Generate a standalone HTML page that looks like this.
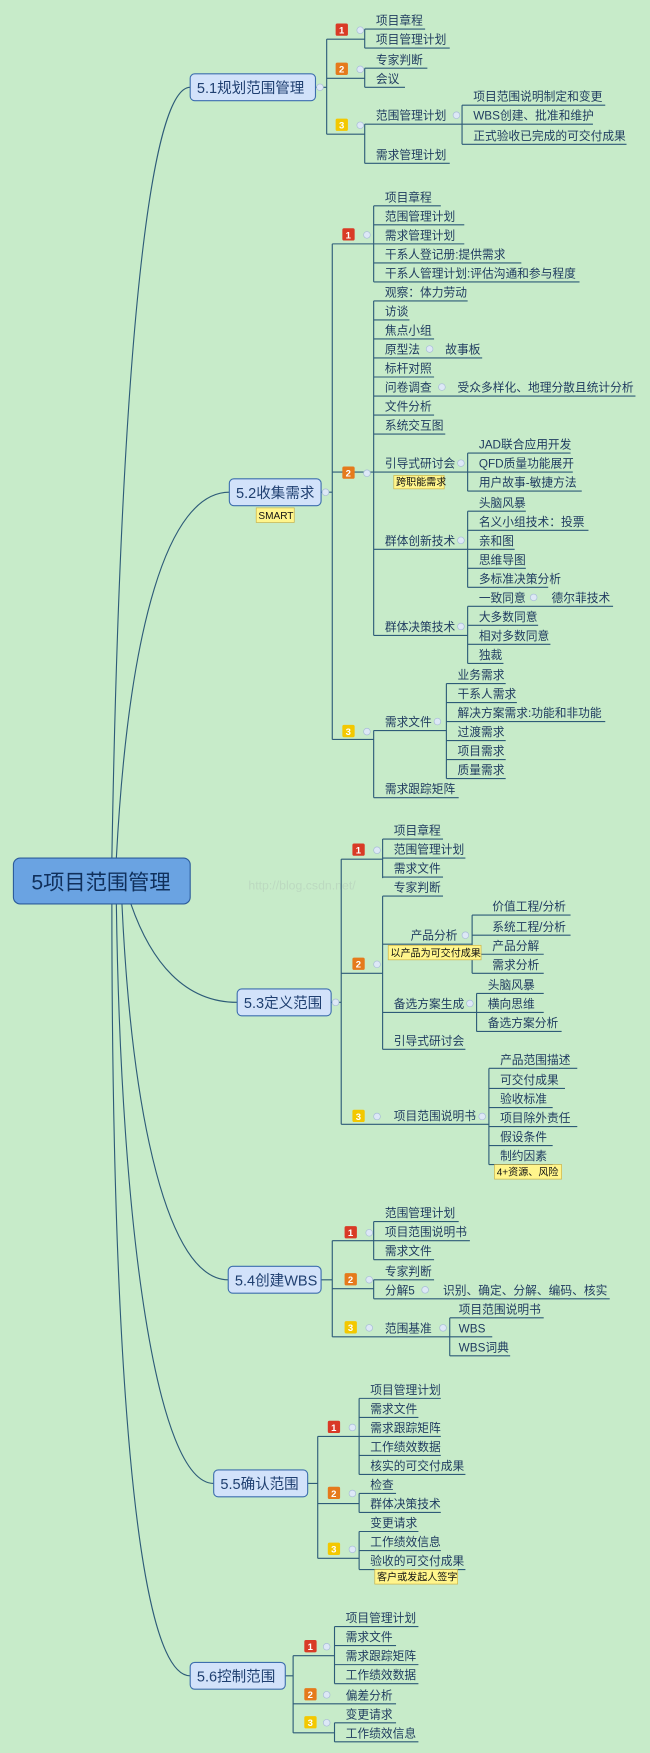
<!DOCTYPE html>
<html><head><meta charset="utf-8"><style>
html,body{margin:0;padding:0;background:#c7ebc9;}
svg{display:block}
text{font-family:"Liberation Sans","Noto Sans CJK SC",sans-serif;}
.t{font-size:10.5px;fill:#1e3a5f}
.l{fill:none;stroke:#2d5b78;stroke-width:1}
.b{font-size:8.5px;fill:#fff;font-weight:bold}
.y{fill:#fff58c;stroke:#c9b046;stroke-width:0.6}
.yt{font-size:9px;fill:#111}
.bx{fill:#d2e2fa;stroke:#3d6eae;stroke-width:1}
.bt{font-size:13px;fill:#1f3f70}
.c{fill:#dde8f6;stroke:#a8bcd8;stroke-width:0.6}
</style></head><body>
<svg width="650" height="1753" viewBox="0 0 581 1567" preserveAspectRatio="none" xmlns="http://www.w3.org/2000/svg">
<rect width="581" height="1567" fill="#c7ebc9"/>
<text x="222" y="795" font-size="11" fill="#bcd9c0" font-family="Liberation Mono,monospace">http://blog.csdn.net/</text>
<path class="l" d="M100 767 C108 300,135 78,170 78 M104 767 C115 560,150 440,205 440 M117 808 C135 860,165 896,212 896 M109 808 C118 1000,150 1144,204 1144 M104 808 C108 1100,140 1326,191 1326 M100 808 C100 1200,120 1498,170 1498"/>
<rect x="12" y="767" width="158" height="41" rx="6" fill="#6aa3e2" stroke="#2c5c9c"/>
<text x="28" y="795" font-size="19" fill="#10305c">5项目范围管理</text>

<path class="l" d="
M282 78H292 M292 35V120 M292 35H326 M326 26V43 M326 26H380 M326 43H402
M292 70H326 M326 61V78 M326 61H382 M326 78H362
M292 120H326 M326 111V146 M326 111H413 M326 146H402
M413 94V129 M413 94H541 M413 111H530 M413 129H560

M287 440H297 M297 218V661 M297 218H334 M334 184V252
M334 184H394 M334 201H415 M334 218H415 M334 235H466 M334 252H518
M297 422H418 M334 269V568
M334 269H418 M334 286H366 M334 303H388 M334 320H431 M334 337H388 M334 354H568 M334 371H388 M334 388H398
M418 405V439 M418 405H510 M418 422H512 M418 439H520
M334 491H418 M418 457V525 M418 457H470 M418 474H526 M418 491H460 M418 508H470 M418 525H490
M334 568H418 M418 542V593 M418 542H548 M418 559H481 M418 576H492 M418 593H450
M297 661H334 M334 653V713 M334 653H399 M334 713H410
M399 611V696 M399 611H452 M399 628H462 M399 645H541 M399 662H452 M399 679H452 M399 696H452

M296 896H305 M305 768V1005 M305 768H342 M342 750V785 M342 750H396 M342 767H416 M342 784H396
M305 870H342 M342 801V938 M342 801H396 M342 844H422 M342 905H426 M342 938H416
M422 818V870 M422 818H510 M422 836H510 M422 853H486 M422 870H486
M426 888V922 M426 888H486 M426 905H486 M426 922H502
M305 1005H437 M437 955V1041 M437 955H516 M437 973H505 M437 990H494 M437 1007H516 M437 1024H494 M437 1041H494

M287 1144H297 M297 1109V1195 M297 1109H334 M334 1092V1126 M334 1092H410 M334 1109H420 M334 1126H388
M297 1152H334 M334 1144V1161 M334 1144H388 M334 1161H545
M297 1195H402 M402 1178V1212 M402 1178H486 M402 1195H440 M402 1212H456

M275 1326H284 M284 1284V1393 M284 1284H321 M321 1250V1318 M321 1250H394 M321 1267H374 M321 1284H394 M321 1301H394 M321 1318H416
M284 1344H321 M321 1335V1352 M321 1335H354 M321 1352H394
M284 1393H321 M321 1369V1403 M321 1369H374 M321 1386H394 M321 1403H416

M255 1498H262 M262 1480V1549 M262 1480H299 M299 1454V1505 M299 1454H374 M299 1471H354 M299 1488H374 M299 1505H374
M262 1523H354
M262 1549H299 M299 1540V1557 M299 1540H354 M299 1557H374
"/>

<rect class="bx" x="170" y="66" width="112" height="24" rx="4"/><text class="bt" x="176" y="83">5.1规划范围管理</text>
<rect class="bx" x="205" y="428" width="82" height="24" rx="4"/><text class="bt" x="211" y="445">5.2收集需求</text>
<rect class="y" x="229" y="454" width="34" height="13"/><text class="yt" x="231" y="464">SMART</text>
<rect class="bx" x="212" y="884" width="84" height="24" rx="4"/><text class="bt" x="218" y="901">5.3定义范围</text>
<rect class="bx" x="204" y="1132" width="83" height="24" rx="4"/><text class="bt" x="210" y="1149">5.4创建WBS</text>
<rect class="bx" x="191" y="1314" width="84" height="24" rx="4"/><text class="bt" x="197" y="1331">5.5确认范围</text>
<rect class="bx" x="170" y="1486" width="85" height="24" rx="4"/><text class="bt" x="176" y="1503">5.6控制范围</text>

<g>
<rect x="300" y="21" width="11" height="11" rx="1.5" fill="#d93a26"/><text class="b" x="303" y="30">1</text>
<rect x="300" y="56" width="11" height="11" rx="1.5" fill="#e57a1c"/><text class="b" x="303" y="65">2</text>
<rect x="300" y="106" width="11" height="11" rx="1.5" fill="#f3c800"/><text class="b" x="303" y="115">3</text>
<rect x="306" y="204" width="11" height="11" rx="1.5" fill="#d93a26"/><text class="b" x="309" y="213">1</text>
<rect x="306" y="417" width="11" height="11" rx="1.5" fill="#e57a1c"/><text class="b" x="309" y="426">2</text>
<rect x="306" y="648" width="11" height="11" rx="1.5" fill="#f3c800"/><text class="b" x="309" y="657">3</text>
<rect x="315" y="754" width="11" height="11" rx="1.5" fill="#d93a26"/><text class="b" x="318" y="763">1</text>
<rect x="315" y="856" width="11" height="11" rx="1.5" fill="#e57a1c"/><text class="b" x="318" y="865">2</text>
<rect x="315" y="992" width="11" height="11" rx="1.5" fill="#f3c800"/><text class="b" x="318" y="1001">3</text>
<rect x="308" y="1096" width="11" height="11" rx="1.5" fill="#d93a26"/><text class="b" x="311" y="1105">1</text>
<rect x="308" y="1138" width="11" height="11" rx="1.5" fill="#e57a1c"/><text class="b" x="311" y="1147">2</text>
<rect x="308" y="1181" width="11" height="11" rx="1.5" fill="#f3c800"/><text class="b" x="311" y="1190">3</text>
<rect x="293" y="1270" width="11" height="11" rx="1.5" fill="#d93a26"/><text class="b" x="296" y="1279">1</text>
<rect x="293" y="1329" width="11" height="11" rx="1.5" fill="#e57a1c"/><text class="b" x="296" y="1338">2</text>
<rect x="293" y="1379" width="11" height="11" rx="1.5" fill="#f3c800"/><text class="b" x="296" y="1388">3</text>
<rect x="272" y="1466" width="11" height="11" rx="1.5" fill="#d93a26"/><text class="b" x="275" y="1475">1</text>
<rect x="272" y="1509" width="11" height="11" rx="1.5" fill="#e57a1c"/><text class="b" x="275" y="1518">2</text>
<rect x="272" y="1534" width="11" height="11" rx="1.5" fill="#f3c800"/><text class="b" x="275" y="1543">3</text>
</g>
<g>
<circle class="c" cx="322" cy="27" r="3"/><circle class="c" cx="322" cy="62" r="3"/><circle class="c" cx="322" cy="112" r="3"/><circle class="c" cx="286" cy="78" r="3"/><circle class="c" cx="408" cy="103" r="3"/>
<circle class="c" cx="328" cy="210" r="3"/><circle class="c" cx="328" cy="423" r="3"/><circle class="c" cx="328" cy="654" r="3"/><circle class="c" cx="291" cy="440" r="3"/>
<circle class="c" cx="384" cy="312" r="3"/><circle class="c" cx="395" cy="346" r="3"/><circle class="c" cx="412" cy="414" r="3"/><circle class="c" cx="412" cy="483" r="3"/><circle class="c" cx="412" cy="560" r="3"/><circle class="c" cx="477" cy="534" r="3"/><circle class="c" cx="391" cy="645" r="3"/>
<circle class="c" cx="337" cy="760" r="3"/><circle class="c" cx="337" cy="862" r="3"/><circle class="c" cx="337" cy="998" r="3"/><circle class="c" cx="300" cy="896" r="3"/><circle class="c" cx="416" cy="836" r="3"/><circle class="c" cx="420" cy="897" r="3"/><circle class="c" cx="431" cy="998" r="3"/>
<circle class="c" cx="330" cy="1102" r="3"/><circle class="c" cx="330" cy="1144" r="3"/><circle class="c" cx="330" cy="1187" r="3"/><circle class="c" cx="380" cy="1153" r="3"/><circle class="c" cx="396" cy="1187" r="3"/>
<circle class="c" cx="315" cy="1276" r="3"/><circle class="c" cx="315" cy="1335" r="3"/><circle class="c" cx="315" cy="1385" r="3"/>
<circle class="c" cx="292" cy="1472" r="3"/><circle class="c" cx="292" cy="1515" r="3"/><circle class="c" cx="292" cy="1540" r="3"/>
</g>

<g class="t">
<text x="336" y="22">项目章程</text>
<text x="336" y="39">项目管理计划</text>
<text x="336" y="57">专家判断</text>
<text x="336" y="74">会议</text>
<text x="336" y="107">范围管理计划</text>
<text x="336" y="142">需求管理计划</text>
<text x="423" y="90">项目范围说明制定和变更</text>
<text x="423" y="107">WBS创建、批准和维护</text>
<text x="423" y="125">正式验收已完成的可交付成果</text>

<text x="344" y="180">项目章程</text>
<text x="344" y="197">范围管理计划</text>
<text x="344" y="214">需求管理计划</text>
<text x="344" y="231">干系人登记册:提供需求</text>
<text x="344" y="248">干系人管理计划:评估沟通和参与程度</text>
<text x="344" y="265">观察：体力劳动</text>
<text x="344" y="282">访谈</text>
<text x="344" y="299">焦点小组</text>
<text x="344" y="316">原型法</text><text x="398" y="316">故事板</text>
<text x="344" y="333">标杆对照</text>
<text x="344" y="350">问卷调查</text><text x="409" y="350">受众多样化、地理分散且统计分析</text>
<text x="344" y="367">文件分析</text>
<text x="344" y="384">系统交互图</text>
<text x="344" y="418">引导式研讨会</text>
<text x="428" y="401">JAD联合应用开发</text>
<text x="428" y="418">QFD质量功能展开</text>
<text x="428" y="435">用户故事-敏捷方法</text>
<text x="344" y="487">群体创新技术</text>
<text x="428" y="453">头脑风暴</text>
<text x="428" y="470">名义小组技术：投票</text>
<text x="428" y="487">亲和图</text>
<text x="428" y="504">思维导图</text>
<text x="428" y="521">多标准决策分析</text>
<text x="344" y="564">群体决策技术</text>
<text x="428" y="538">一致同意</text><text x="493" y="538">德尔菲技术</text>
<text x="428" y="555">大多数同意</text>
<text x="428" y="572">相对多数同意</text>
<text x="428" y="589">独裁</text>
<text x="344" y="649">需求文件</text>
<text x="409" y="607">业务需求</text>
<text x="409" y="624">干系人需求</text>
<text x="409" y="641">解决方案需求:功能和非功能</text>
<text x="409" y="658">过渡需求</text>
<text x="409" y="675">项目需求</text>
<text x="409" y="692">质量需求</text>
<text x="344" y="709">需求跟踪矩阵</text>

<text x="352" y="746">项目章程</text>
<text x="352" y="763">范围管理计划</text>
<text x="352" y="780">需求文件</text>
<text x="352" y="797">专家判断</text>
<text x="367" y="840">产品分析</text>
<text x="440" y="814">价值工程/分析</text>
<text x="440" y="832">系统工程/分析</text>
<text x="440" y="849">产品分解</text>
<text x="440" y="866">需求分析</text>
<text x="352" y="901">备选方案生成</text>
<text x="436" y="884">头脑风暴</text>
<text x="436" y="901">横向思维</text>
<text x="436" y="918">备选方案分析</text>
<text x="352" y="934">引导式研讨会</text>
<text x="352" y="1001">项目范围说明书</text>
<text x="447" y="951">产品范围描述</text>
<text x="447" y="969">可交付成果</text>
<text x="447" y="986">验收标准</text>
<text x="447" y="1003">项目除外责任</text>
<text x="447" y="1020">假设条件</text>
<text x="447" y="1037">制约因素</text>

<text x="344" y="1088">范围管理计划</text>
<text x="344" y="1105">项目范围说明书</text>
<text x="344" y="1122">需求文件</text>
<text x="344" y="1140">专家判断</text>
<text x="344" y="1157">分解5</text><text x="396" y="1157">识别、确定、分解、编码、核实</text>
<text x="344" y="1191">范围基准</text>
<text x="410" y="1174">项目范围说明书</text>
<text x="410" y="1191">WBS</text>
<text x="410" y="1208">WBS词典</text>

<text x="331" y="1246">项目管理计划</text>
<text x="331" y="1263">需求文件</text>
<text x="331" y="1280">需求跟踪矩阵</text>
<text x="331" y="1297">工作绩效数据</text>
<text x="331" y="1314">核实的可交付成果</text>
<text x="331" y="1331">检查</text>
<text x="331" y="1348">群体决策技术</text>
<text x="331" y="1365">变更请求</text>
<text x="331" y="1382">工作绩效信息</text>
<text x="331" y="1399">验收的可交付成果</text>

<text x="309" y="1450">项目管理计划</text>
<text x="309" y="1467">需求文件</text>
<text x="309" y="1484">需求跟踪矩阵</text>
<text x="309" y="1501">工作绩效数据</text>
<text x="309" y="1519">偏差分析</text>
<text x="309" y="1536">变更请求</text>
<text x="309" y="1553">工作绩效信息</text>
</g>

<rect class="y" x="352" y="425" width="45" height="12"/><text class="yt" x="354" y="434">跨职能需求</text>
<rect class="y" x="347" y="845" width="83" height="13"/><text class="yt" x="349" y="855">以产品为可交付成果</text>
<rect class="y" x="442" y="1041" width="60" height="13"/><text class="yt" x="444" y="1051">4+资源、风险</text>
<rect class="y" x="335" y="1403" width="74" height="13"/><text class="yt" x="337" y="1413">客户或发起人签字</text>
</svg>
</body></html>
